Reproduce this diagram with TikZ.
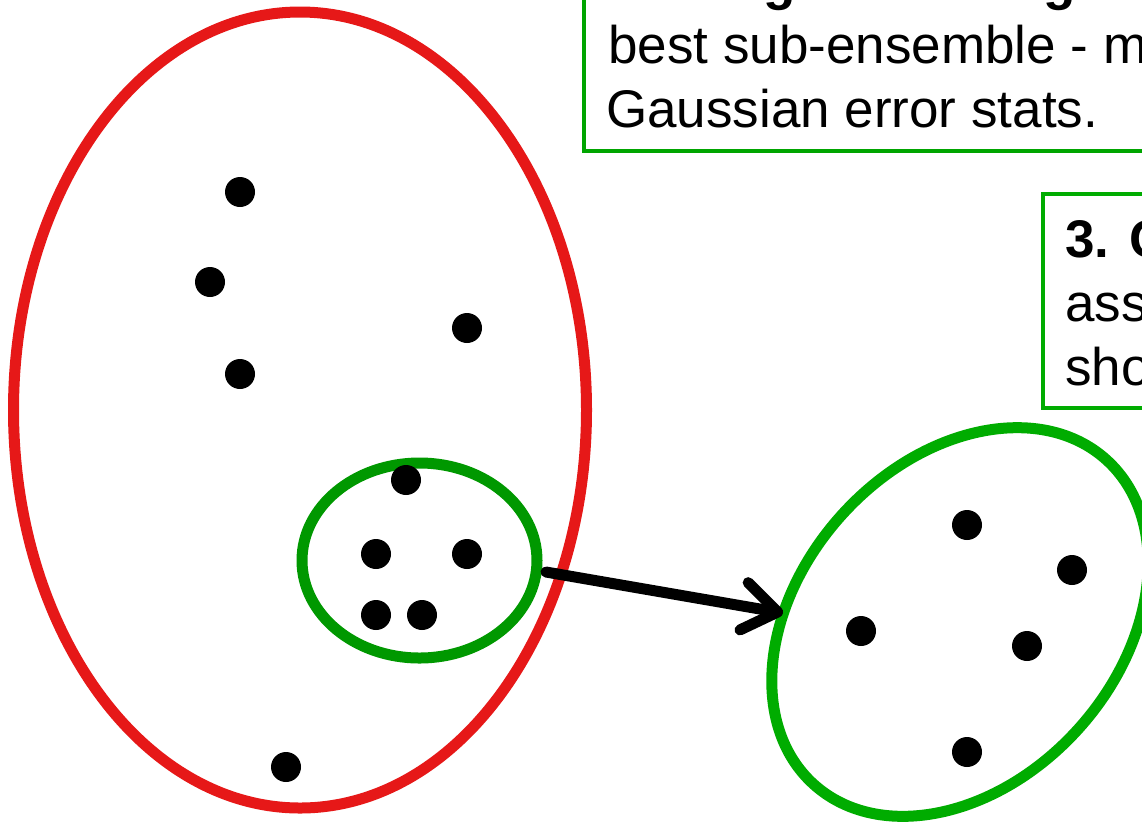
\documentclass[tikz,border=0pt]{standalone}
\usepackage{fontspec}
\setmainfont{Liberation Sans}
\usetikzlibrary{shapes.geometric,arrows.meta}
\definecolor{ringred}{RGB}{230,24,24}
\definecolor{ringgreen}{RGB}{0,152,0}
\definecolor{brightgreen}{RGB}{0,172,0}
\definecolor{boxgreen}{RGB}{0,165,0}
\tikzset{
  dot/.style={circle,fill=black,draw=none,minimum size=30pt,inner sep=0pt},
  ring/.style={ellipse,draw,line width=11pt,inner sep=0pt},
  txtline/.style={anchor=base west,inner sep=0pt,font=\fontsize{53}{64}\selectfont},
  boldline/.style={txtline,font=\bfseries\fontsize{53}{64}\selectfont},
  infobox/.style={draw=boxgreen,line width=4pt},
  bigarrow/.style={line width=11pt,line cap=round,-{Straight Barb[length=34pt,width=48pt,round]}}
}
\begin{document}
\begin{tikzpicture}[x=1pt,y=-1pt]
\useasboundingbox (0,0) rectangle (1142,823);
\clip (0,0) rectangle (1142,823);
\fill[white] (0,0) rectangle (1142,823);

% text boxes
\draw[infobox] (584,-40) rectangle (1200,151);
\draw[infobox,draw=brightgreen] (1043,194) rectangle (1200,408);
\node[boldline] (t0) at (608,-1) {2. Image matching sc};
\node[txtline] (t1) at (608,63) {best sub-ensemble - m};
\node[txtline] (t2) at (606,127) {Gaussian error stats.};
\node[boldline] (r0) at (1065,257) {3. C};
\node[txtline] (r1) at (1065,321) {ass};
\node[txtline] (r2) at (1065,385) {sho};

% big red ensemble
\node[ring,draw=ringred,minimum width=573pt,minimum height=796pt] (ens) at (300,410) {};
% selected sub-ensemble
\node[ring,draw=ringgreen,minimum width=235pt,minimum height=195pt] (sub) at (419.5,560.5) {};
% extracted sub-ensemble
\node[ring,draw=brightgreen,minimum width=437pt,minimum height=319pt,rotate=48] (ext) at (960,622) {};

% dots in ensemble
\foreach \n/\x/\y in {a/240/192,b/210/282,c/240/374,d/467/328,e/406/480,f/376/554,g/467/554,h/376/615,i/422/615,j/286/767}
  \node[dot] (d\n) at (\x,\y) {};
% dots in extracted ellipse
\foreach \n/\x/\y in {a/967/525,b/1072/570,c/861/631,d/1027/646,e/967/752}
  \node[dot] (x\n) at (\x,\y) {};

% arrow
\coordinate (as) at (546,572);
\coordinate (ae) at (783,613);
\draw[bigarrow] (as) -- (ae);
\end{tikzpicture}
\end{document}
